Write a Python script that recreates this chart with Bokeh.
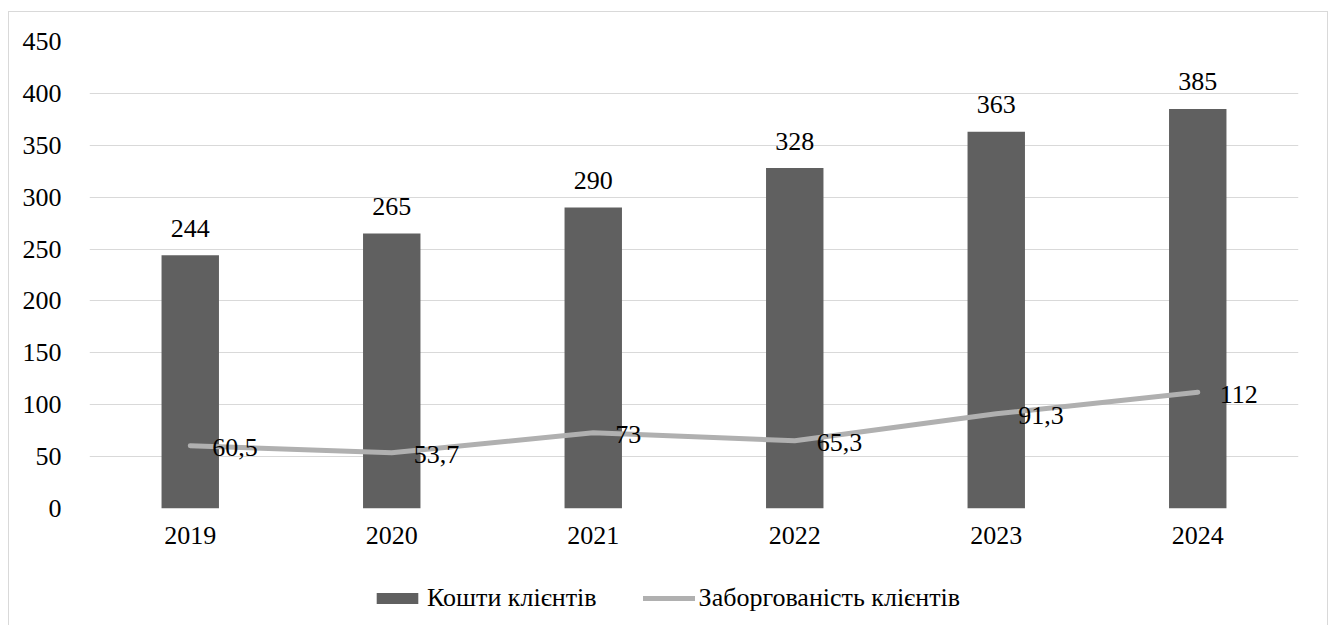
from bokeh.plotting import figure
from bokeh.models import ColumnDataSource, Legend, LegendItem, FactorRange, Range1d
from bokeh.layouts import column
from bokeh.embed import file_html
from bokeh.resources import INLINE
from bokeh.core.properties import value

years = ["2019", "2020", "2021", "2022", "2023", "2024"]
funds = [244, 265, 290, 328, 363, 385]
debt = [60.5, 53.7, 73, 65.3, 91.3, 112]
y_ticks = [0, 50, 100, 150, 200, 250, 300, 350, 400, 450]
funds_name = "Кошти клієнтів"
debt_name = "Заборгованість клієнтів"


def fmt(v):
    return (str(int(v)) if float(v).is_integer() else str(v)).replace(".", ",")


src = ColumnDataSource(dict(
    x=years, funds=funds, debt=debt,
    funds_lbl=[fmt(v) for v in funds],
    debt_lbl=[fmt(v) for v in debt],
))

FONT = "Liberation Serif"
FS = "26px"
BAR_COLOR = "#606060"
LINE_COLOR = "#b0b0b0"

p = figure(
    x_range=FactorRange(*years, range_padding=0),
    y_range=Range1d(0, 450),
    width=1318, height=545,
    output_backend="svg", toolbar_location=None,
    min_border_left=80, min_border_right=29, min_border_top=29, min_border_bottom=49,
)
p.outline_line_color = None
p.background_fill_color = "white"
p.border_fill_color = "white"

bars = p.vbar(x="x", top="funds", width=0.285, source=src, fill_color=BAR_COLOR, line_color=None)
line = p.line(x="x", y="debt", source=src, line_color=LINE_COLOR, line_width=5, line_cap="round", line_join="round")

p.text(x="x", y="funds", text="funds_lbl", source=src, text_align="center", text_baseline="alphabetic",
       y_offset=-27, text_font=value(FONT), text_font_size=FS, text_color="black")
p.text(x="x", y="debt", text="debt_lbl", source=src, text_align="left", text_baseline="middle",
       x_offset=22, y_offset=2, text_font=value(FONT), text_font_size=FS, text_color="black")

p.yaxis.ticker = y_ticks
p.ygrid.ticker = y_ticks
p.ygrid.grid_line_color = "#d9d9d9"
p.ygrid.grid_line_width = 1
p.xgrid.grid_line_color = None

for ax in (p.xaxis, p.yaxis):
    ax.axis_line_color = None
    ax.major_tick_line_color = None
    ax.minor_tick_line_color = None
    ax.major_label_text_font = FONT
    ax.major_label_text_font_size = FS
    ax.major_label_text_color = "black"
p.yaxis.major_label_standoff = 22
p.xaxis.major_label_standoff = 12

# legend strip: swatch helper renderers sit outside the visible range (legend only)
p2 = figure(
    width=1318, height=82, x_range=Range1d(0, 1), y_range=Range1d(0, 1),
    output_backend="svg", toolbar_location=None,
    min_border_left=0, min_border_right=0, min_border_top=0, min_border_bottom=0,
)
p2.axis.visible = False
p2.grid.visible = False
p2.outline_line_color = None
p2.border_fill_color = "white"
p2.background_fill_color = "white"
sw_bar = p2.vbar(x=[-10], top=[-5], bottom=[-6], width=0.1, fill_color=BAR_COLOR, line_color=None)
sw_line = p2.line(x=[-10, -9], y=[-10, -10], line_color=LINE_COLOR, line_width=5, line_cap="round")

legend = Legend(
    items=[LegendItem(label=funds_name, renderers=[sw_bar]), LegendItem(label=debt_name, renderers=[sw_line])],
    orientation="horizontal", location=(282, 26),
    label_text_font=FONT, label_text_font_size=FS, label_text_color="black",
    glyph_width=52, glyph_height=14, label_standoff=4, spacing=46,
    border_line_color=None, background_fill_alpha=0, padding=0, margin=0,
)
p2.add_layout(legend, "center")

layout = column(p, p2, spacing=0,
                styles={"border": "1px solid #d9d9d9", "margin-left": "8px", "margin-top": "11px"})

open("out.html", "w").write(file_html(layout, INLINE))
